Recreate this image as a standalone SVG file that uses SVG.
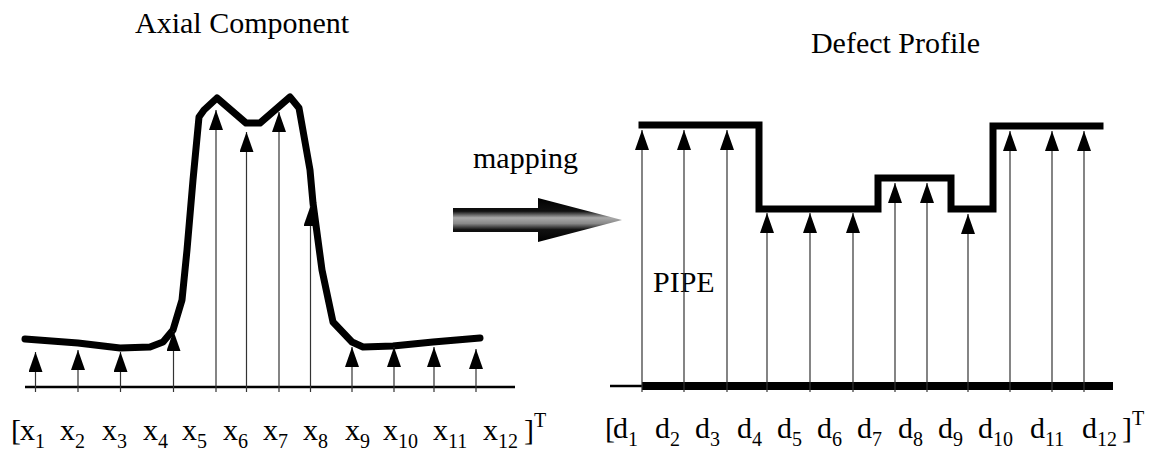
<svg xmlns="http://www.w3.org/2000/svg" width="1153" height="455" viewBox="0 0 1153 455">
<style>
text{font-family:"Liberation Serif","Times New Roman",serif;fill:#000}
.t{font-size:30px}
.lab{font-size:30px}
.sub{font-size:20px}
.sup{font-size:20px}
.vl{stroke:#333;stroke-width:1.2;fill:none;marker-end:url(#ah)}
.curve{fill:none;stroke:#000;stroke-width:7;stroke-linejoin:round;stroke-linecap:round}
.step{fill:none;stroke:#000;stroke-width:7;stroke-linejoin:miter;stroke-linecap:square}
.base{stroke:#000;stroke-width:2.5}
</style>
<defs>
<marker id="ah" viewBox="0 0 20 14" refX="20" refY="7" markerWidth="20" markerHeight="14" markerUnits="userSpaceOnUse" orient="auto">
<path d="M0,0 L20,7 L0,14 Z" fill="#000"/>
</marker>
<linearGradient id="ag" gradientUnits="userSpaceOnUse" x1="0" y1="198" x2="0" y2="242">
<stop offset="0" stop-color="#000"/>
<stop offset="0.3" stop-color="#111"/>
<stop offset="0.45" stop-color="#aaa"/>
<stop offset="0.58" stop-color="#888"/>
<stop offset="0.72" stop-color="#111"/>
<stop offset="1" stop-color="#000"/>
</linearGradient>
</defs>
<rect width="1153" height="455" fill="#fff"/>

<g id="left-panel">
<text class="t" x="135" y="33">Axial Component</text>
<line class="base" x1="25" y1="387" x2="515" y2="387"/>
<polyline class="curve" points="25,339 78,343 120,348 150,347 163,342 173,330 182,300 187,250 193,180 199,117 204,110 217,98 246,123 260,123 290,97 299,108 310,170 313,203 322,270 333,322 352,342 363,347 393,346 433,342 480,338"/>
</g>

<g id="right-panel">
<text class="t" x="980" y="53" text-anchor="end">Defect Profile</text>
<line x1="610" y1="386" x2="642" y2="386" stroke="#000" stroke-width="2.5"/>
<line x1="642" y1="386" x2="1113" y2="386" stroke="#000" stroke-width="8"/>
<polyline class="step" points="642,125 759,125 759,209 878,209 878,178 951,178 951,209 993,209 993,126 1100,126"/>
<text class="t" x="653" y="292">PIPE</text>
</g>

<g id="mapping">
<text class="t" x="473" y="168">mapping</text>
<polygon points="453,208 538,208 538,198 622,220 538,242 538,232 453,232" fill="url(#ag)"/>
</g>

<g id="connectors">
<line class="vl" x1="35.5" y1="392" x2="35.5" y2="352"/>
<line class="vl" x1="78" y1="392" x2="78" y2="350"/>
<line class="vl" x1="120.5" y1="392" x2="120.5" y2="352"/>
<line class="vl" x1="173.5" y1="392" x2="173.5" y2="331"/>
<line class="vl" x1="216" y1="392" x2="216" y2="110"/>
<line class="vl" x1="246.5" y1="392" x2="246.5" y2="132"/>
<line class="vl" x1="279" y1="392" x2="279" y2="112"/>
<line class="vl" x1="310.5" y1="392" x2="310.5" y2="206"/>
<line class="vl" x1="352" y1="392" x2="352" y2="347"/>
<line class="vl" x1="394" y1="392" x2="394" y2="347"/>
<line class="vl" x1="434" y1="392" x2="434" y2="347"/>
<line class="vl" x1="476" y1="392" x2="476" y2="349"/>

<line class="vl" x1="642" y1="392" x2="642" y2="130"/>
<line class="vl" x1="684" y1="392" x2="684" y2="130"/>
<line class="vl" x1="727" y1="392" x2="727" y2="130"/>
<line class="vl" x1="767" y1="392" x2="767" y2="213"/>
<line class="vl" x1="810" y1="392" x2="810" y2="213"/>
<line class="vl" x1="853" y1="392" x2="853" y2="213"/>
<line class="vl" x1="895" y1="392" x2="895" y2="183"/>
<line class="vl" x1="927" y1="392" x2="927" y2="183"/>
<line class="vl" x1="968" y1="392" x2="968" y2="214"/>
<line class="vl" x1="1010" y1="392" x2="1010" y2="131"/>
<line class="vl" x1="1052" y1="392" x2="1052" y2="131"/>
<line class="vl" x1="1084" y1="392" x2="1084" y2="131"/>
</g>

<g id="x-labels" class="lab">
<text class="lab" x="11" y="440">[</text>
<text class="lab" x="20" y="440">x<tspan class="sub" dy="8">1</tspan></text>
<text class="lab" x="60" y="440">x<tspan class="sub" dy="8">2</tspan></text>
<text class="lab" x="102" y="440">x<tspan class="sub" dy="8">3</tspan></text>
<text class="lab" x="143" y="440">x<tspan class="sub" dy="8">4</tspan></text>
<text class="lab" x="182" y="440">x<tspan class="sub" dy="8">5</tspan></text>
<text class="lab" x="223" y="440">x<tspan class="sub" dy="8">6</tspan></text>
<text class="lab" x="263" y="440">x<tspan class="sub" dy="8">7</tspan></text>
<text class="lab" x="303" y="440">x<tspan class="sub" dy="8">8</tspan></text>
<text class="lab" x="345" y="440">x<tspan class="sub" dy="8">9</tspan></text>
<text class="lab" x="383" y="440">x<tspan class="sub" dy="8">10</tspan></text>
<text class="lab" x="433" y="440">x<tspan class="sub" dy="8">11</tspan></text>
<text class="lab" x="483" y="440">x<tspan class="sub" dy="8">12</tspan></text>
<text class="lab" x="524" y="440">]<tspan class="sup" dy="-13">T</tspan></text>
</g>

<g id="d-labels">
<text class="lab" x="605" y="438">[</text>
<text class="lab" x="613" y="438">d<tspan class="sub" dy="8">1</tspan></text>
<text class="lab" x="655" y="438">d<tspan class="sub" dy="8">2</tspan></text>
<text class="lab" x="695" y="438">d<tspan class="sub" dy="8">3</tspan></text>
<text class="lab" x="737" y="438">d<tspan class="sub" dy="8">4</tspan></text>
<text class="lab" x="777" y="438">d<tspan class="sub" dy="8">5</tspan></text>
<text class="lab" x="817" y="438">d<tspan class="sub" dy="8">6</tspan></text>
<text class="lab" x="857" y="438">d<tspan class="sub" dy="8">7</tspan></text>
<text class="lab" x="898" y="438">d<tspan class="sub" dy="8">8</tspan></text>
<text class="lab" x="938" y="438">d<tspan class="sub" dy="8">9</tspan></text>
<text class="lab" x="978" y="438">d<tspan class="sub" dy="8">10</tspan></text>
<text class="lab" x="1030" y="438">d<tspan class="sub" dy="8">11</tspan></text>
<text class="lab" x="1082" y="438">d<tspan class="sub" dy="8">12</tspan></text>
<text class="lab" x="1122" y="438">]<tspan class="sup" dy="-13">T</tspan></text>
</g>
</svg>
